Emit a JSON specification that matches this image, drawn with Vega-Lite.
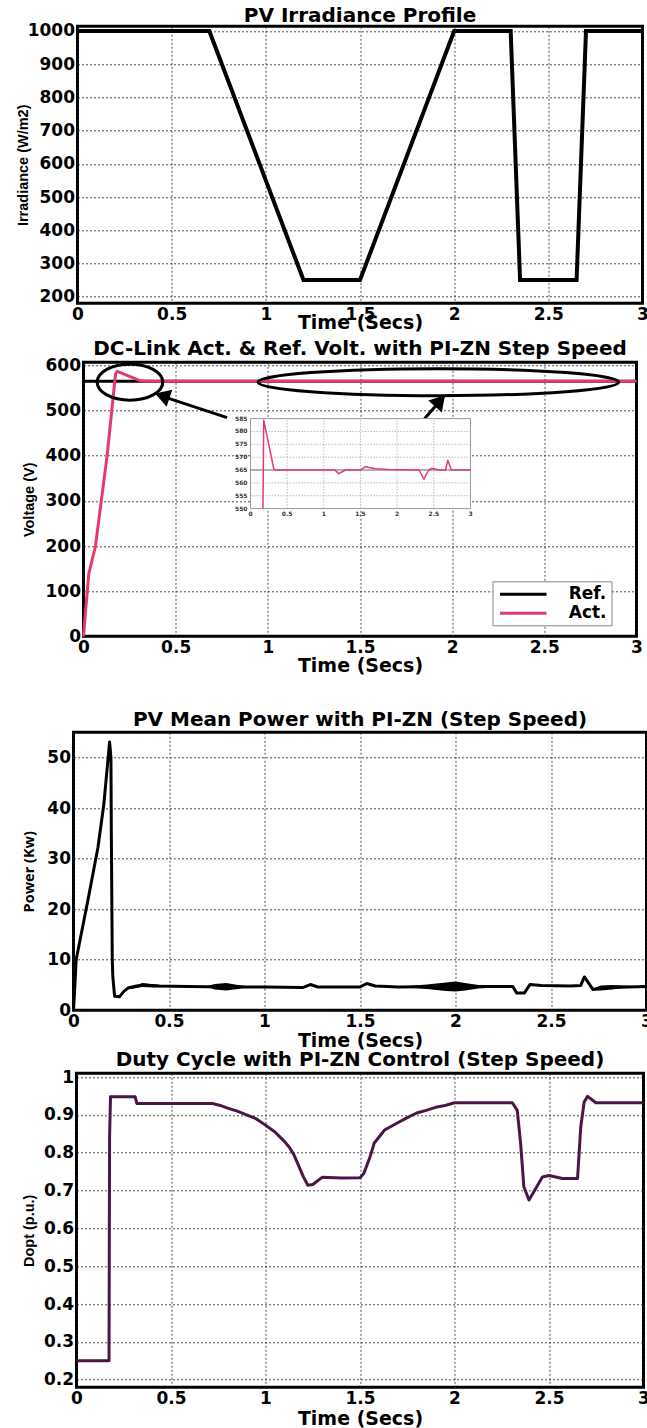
{
  "$schema": "https://vega.github.io/schema/vega-lite/v6.json",
  "usermeta": {"embedOptions": {"actions": false}},
  "background": "white",
  "padding": {"left": 13.5, "top": 4.3, "right": 0, "bottom": 0},
  "spacing": 0,
  "bounds": "flush",
  "center": true,
  "config": {
    "view": {"stroke": "black", "strokeWidth": 3},
    "axis": {"domain": false, "ticks": false, "grid": true, "gridColor": "#222", "gridDash": [2, 2], "gridWidth": 0.8, "gridOpacity": 1,
      "labelFont": "DejaVu Sans", "labelFontWeight": "bold", "labelFontSize": 17, "labelColor": "black", "labelPadding": 3,
      "labelFlush": false, "labelOverlap": false, "labelBound": false, "titleColor": "black"},
    "axisX": {"titleFont": "DejaVu Sans", "titleFontSize": 19, "titleFontWeight": "bold", "titleBaseline": "top", "titleAlign": "center"},
    "axisY": {"titleFont": "Liberation Sans", "titleFontSize": 14.5, "titleFontWeight": "bold", "titleAngle": 270, "titleBaseline": "middle", "titleAlign": "center"},
    "title": {"font": "DejaVu Sans", "fontSize": 20, "fontWeight": "bold", "color": "black", "anchor": "middle", "frame": "group", "baseline": "alphabetic"},
    "line": {"strokeJoin": "round"}
  },
  "datasets": {
    "irr": [{"t":0,"g":1000},{"t":0.7,"g":1000},{"t":1.2,"g":250},{"t":1.5,"g":250},{"t":2.0,"g":1000},{"t":2.3,"g":1000},{"t":2.35,"g":250},{"t":2.65,"g":250},{"t":2.7,"g":1000},{"t":3,"g":1000}],
    "vref": [{"t":0,"v":565,"s":"Ref."},{"t":3,"v":565,"s":"Ref."}],
    "vact": [{"t":0,"v":0,"s":"Act."},{"t":0.012,"v":60,"s":"Act."},{"t":0.029,"v":139,"s":"Act."},{"t":0.065,"v":200,"s":"Act."},{"t":0.128,"v":400,"s":"Act."},{"t":0.174,"v":582,"s":"Act."},{"t":0.183,"v":587,"s":"Act."},{"t":0.31,"v":566,"s":"Act."},{"t":0.34,"v":565,"s":"Act."},{"t":3,"v":565,"s":"Act."}],
    "ell1": [{"t":0.252,"v":563}],
    "ell2": [{"t":1.925,"v":563}],
    "arrows": [{"t":0.779,"v":484.5,"t2":0.40,"v2":535.5},{"t":1.85,"v":482,"t2":1.955,"v2":531}],
    "head1": [{"t":0.389,"v":537.7}],
    "head2": [{"t":1.961,"v":534}],
    "ibox": [{"t":0,"t2":3,"v":550,"v2":585}],
    "igx": [{"t":0.5,"v":550,"v2":585},{"t":1,"v":550,"v2":585},{"t":1.5,"v":550,"v2":585},{"t":2,"v":550,"v2":585},{"t":2.5,"v":550,"v2":585}],
    "igy": [{"v":555,"t":0,"t2":3},{"v":560,"t":0,"t2":3},{"v":565,"t":0,"t2":3},{"v":570,"t":0,"t2":3},{"v":575,"t":0,"t2":3},{"v":580,"t":0,"t2":3}],
    "ity": [{"v":550,"t":0},{"v":555,"t":0},{"v":560,"t":0},{"v":565,"t":0},{"v":570,"t":0},{"v":575,"t":0},{"v":580,"t":0},{"v":585,"t":0}],
    "itx": [{"t":0,"v":550},{"t":0.5,"v":550},{"t":1,"v":550},{"t":1.5,"v":550},{"t":2,"v":550},{"t":2.5,"v":550},{"t":3,"v":550}],
    "iref": [{"t":0,"v":565},{"t":3,"v":565}],
    "iact": [{"t":0.17,"v":550},{"t":0.181,"v":584.4},{"t":0.318,"v":565.4},{"t":0.35,"v":565},{"t":1.15,"v":565},{"t":1.204,"v":563.6},{"t":1.295,"v":565},{"t":1.5,"v":565},{"t":1.568,"v":566.3},{"t":1.7,"v":565.5},{"t":1.88,"v":565.2},{"t":2.3,"v":565},{"t":2.364,"v":561.4},{"t":2.43,"v":565},{"t":2.477,"v":565.7},{"t":2.568,"v":565},{"t":2.66,"v":565},{"t":2.69,"v":568.8},{"t":2.74,"v":565},{"t":3,"v":565}],
    "pow": [{"t":0,"p":0},{"t":0.006,"p":4},{"t":0.014,"p":10},{"t":0.04,"p":15},{"t":0.075,"p":21.7},{"t":0.128,"p":32.2},{"t":0.159,"p":40.8},{"t":0.189,"p":53.1},{"t":0.196,"p":50},{"t":0.198,"p":35},{"t":0.203,"p":10},{"t":0.206,"p":6.6},{"t":0.215,"p":2.8},{"t":0.241,"p":2.7},{"t":0.265,"p":3.8},{"t":0.285,"p":4.4},{"t":0.33,"p":4.8},{"t":0.37,"p":5.0},{"t":0.45,"p":4.8},{"t":0.6,"p":4.7},{"t":0.8,"p":4.6},{"t":1.0,"p":4.6},{"t":1.2,"p":4.5},{"t":1.24,"p":5.1},{"t":1.28,"p":4.6},{"t":1.5,"p":4.6},{"t":1.535,"p":5.3},{"t":1.58,"p":4.8},{"t":1.7,"p":4.6},{"t":2.0,"p":4.7},{"t":2.3,"p":4.7},{"t":2.32,"p":3.4},{"t":2.36,"p":3.4},{"t":2.39,"p":5.1},{"t":2.45,"p":4.9},{"t":2.6,"p":4.8},{"t":2.655,"p":4.9},{"t":2.675,"p":6.6},{"t":2.72,"p":4.1},{"t":2.8,"p":4.5},{"t":3,"p":4.7}],
    "powband": [{"b":1,"t":0.3,"lo":4.2,"hi":4.5},{"b":1,"t":0.36,"lo":4.6,"hi":5.4},{"b":1,"t":0.42,"lo":4.5,"hi":5.1},{"b":1,"t":0.48,"lo":4.6,"hi":4.9},
      {"b":2,"t":0.7,"lo":4.6,"hi":4.8},{"b":2,"t":0.74,"lo":4.1,"hi":5.2},{"b":2,"t":0.8,"lo":3.9,"hi":5.4},{"b":2,"t":0.86,"lo":4.2,"hi":5.0},{"b":2,"t":0.9,"lo":4.5,"hi":4.8},
      {"b":3,"t":1.75,"lo":4.5,"hi":4.8},{"b":3,"t":1.85,"lo":4.2,"hi":5.1},{"b":3,"t":1.95,"lo":3.8,"hi":5.5},{"b":3,"t":2.0,"lo":3.7,"hi":5.7},{"b":3,"t":2.05,"lo":3.9,"hi":5.4},{"b":3,"t":2.12,"lo":4.3,"hi":5.0},{"b":3,"t":2.2,"lo":4.5,"hi":4.8},
      {"b":4,"t":2.72,"lo":4.0,"hi":4.3},{"b":4,"t":2.76,"lo":3.9,"hi":4.9},{"b":4,"t":2.82,"lo":4.1,"hi":5.0},{"b":4,"t":2.88,"lo":4.4,"hi":4.9},{"b":4,"t":2.93,"lo":4.6,"hi":4.8}],
    "duty": [{"t":0,"d":0.25},{"t":0.172,"d":0.25},{"t":0.175,"d":0.84},{"t":0.18,"d":0.948},{"t":0.31,"d":0.948},{"t":0.32,"d":0.93},{"t":0.72,"d":0.93},{"t":0.76,"d":0.925},{"t":0.8,"d":0.918},{"t":0.85,"d":0.91},{"t":0.9,"d":0.9},{"t":0.95,"d":0.89},{"t":1.0,"d":0.873},{"t":1.05,"d":0.855},{"t":1.1,"d":0.83},{"t":1.125,"d":0.815},{"t":1.15,"d":0.795},{"t":1.17,"d":0.772},{"t":1.2,"d":0.737},{"t":1.224,"d":0.714},{"t":1.25,"d":0.716},{"t":1.3,"d":0.735},{"t":1.4,"d":0.733},{"t":1.5,"d":0.734},{"t":1.52,"d":0.745},{"t":1.553,"d":0.789},{"t":1.575,"d":0.825},{"t":1.63,"d":0.86},{"t":1.695,"d":0.878},{"t":1.75,"d":0.893},{"t":1.8,"d":0.905},{"t":1.85,"d":0.912},{"t":1.9,"d":0.92},{"t":1.95,"d":0.925},{"t":2.0,"d":0.932},{"t":2.306,"d":0.932},{"t":2.332,"d":0.912},{"t":2.35,"d":0.824},{"t":2.367,"d":0.71},{"t":2.394,"d":0.675},{"t":2.42,"d":0.697},{"t":2.465,"d":0.736},{"t":2.5,"d":0.74},{"t":2.571,"d":0.732},{"t":2.651,"d":0.732},{"t":2.668,"d":0.868},{"t":2.686,"d":0.934},{"t":2.704,"d":0.949},{"t":2.748,"d":0.932},{"t":3,"d":0.932}]
  },
  "vconcat": [
    {
      "width": 565, "height": 277,
      "title": {"text": "PV Irradiance Profile", "offset": -4.4},
      "data": {"name": "irr"},
      "mark": {"type": "line", "color": "black", "strokeWidth": 4, "strokeJoin": "miter"},
      "encoding": {
        "x": {"field": "t", "type": "quantitative", "scale": {"domain": [0, 3], "nice": false, "zero": false},
          "axis": {"values": [0, 0.5, 1, 1.5, 2, 2.5, 3], "format": "~g", "title": "Time (Secs)", "titleY": 10}},
        "y": {"field": "g", "type": "quantitative", "scale": {"domain": [180, 1014], "nice": false, "zero": false},
          "axis": {"values": [200, 300, 400, 500, 600, 700, 800, 900, 1000], "format": "d", "title": "Irradiance (W/m2)", "titleX": -54.5}}
      }
    },
    {"width": 10, "height": 59, "view": {"stroke": null}, "data": {"values": [{"a": 1}]}, "mark": {"type": "point", "opacity": 0}, "encoding": {}},
    {
      "width": 553, "height": 274,
      "title": {"text": "DC-Link Act. & Ref. Volt. with PI-ZN Step Speed", "offset": -2.4},
      "layer": [
        {
          "encoding": {
            "x": {"field": "t", "type": "quantitative", "scale": {"domain": [0, 3], "nice": false, "zero": false},
              "axis": {"values": [0, 0.5, 1, 1.5, 2, 2.5, 3], "format": "~g", "title": "Time (Secs)", "titleY": 20}},
            "y": {"field": "v", "type": "quantitative", "scale": {"domain": [0, 607], "nice": false, "zero": false},
              "axis": {"values": [0, 100, 200, 300, 400, 500, 600], "title": "Voltage (V)", "titleX": -54}}
          },
          "layer": [
            {"data": {"name": "vref"}, "mark": {"type": "line", "strokeWidth": 3},
              "encoding": {"color": {"field": "s", "type": "nominal",
                "scale": {"domain": ["Ref.", "Act."], "range": ["black", "#e63a6e"]},
                "legend": {"orient": "none", "legendX": 419, "legendY": 555, "title": null,
                  "symbolType": "M -3.1 0 L 3.1 0", "symbolSize": 225, "symbolOffset": 17.75,
                  "symbolStrokeWidth": 3, "labelFont": "DejaVu Sans", "labelFontWeight": "bold", "labelFontSize": 17, "labelColor": "black",
                  "labelOffset": 36.5, "fillColor": "white", "strokeColor": "#888", "padding": 4, "rowPadding": 2}}}},
            {"data": {"name": "vact"}, "mark": {"type": "line", "strokeWidth": 3},
              "encoding": {"color": {"field": "s", "type": "nominal"}}},
            {"data": {"name": "ell1"}, "mark": {"type": "point", "shape": "M -1 0 C -1 -0.303 -0.552 -0.549 0 -0.549 C 0.552 -0.549 1 -0.303 1 0 C 1 0.303 0.552 0.549 0 0.549 C -0.552 0.549 -1 0.303 -1 0 Z", "size": 4303, "filled": false, "stroke": "black", "strokeWidth": 3, "opacity": 1}},
            {"data": {"name": "ell2"}, "mark": {"type": "point", "shape": "M -1 0 C -1 -0.0413 -0.552 -0.0749 0 -0.0749 C 0.552 -0.0749 1 -0.0413 1 0 C 1 0.0413 0.552 0.0749 0 0.0749 C -0.552 0.0749 -1 0.0413 -1 0 Z", "size": 130104, "filled": false, "stroke": "black", "strokeWidth": 3, "opacity": 1}},
            {"data": {"name": "arrows"}, "mark": {"type": "rule", "color": "black", "strokeWidth": 3},
              "encoding": {"x2": {"field": "t2"}, "y2": {"field": "v2"}}},
            {"data": {"name": "head1"}, "mark": {"type": "point", "shape": "M -0.6 1 L 0 0 L 0.6 1 Z", "size": 900, "filled": true, "color": "black", "opacity": 1, "angle": 288.4}},
            {"data": {"name": "head2"}, "mark": {"type": "point", "shape": "M -0.6 1 L 0 0 L 0.6 1 Z", "size": 900, "filled": true, "color": "black", "opacity": 1, "angle": 41.5}}
          ]
        },
        {
          "encoding": {
            "x": {"field": "t", "type": "quantitative", "scale": {"domain": [-2.277, 5.264], "nice": false, "zero": false}, "axis": null},
            "y": {"field": "v", "type": "quantitative", "scale": {"domain": [500.32, 606.9], "nice": false, "zero": false}, "axis": null}
          },
          "layer": [
            {"data": {"name": "ibox"}, "mark": {"type": "rect", "fill": "white", "stroke": "#999", "strokeWidth": 1},
              "encoding": {"x2": {"field": "t2"}, "y2": {"field": "v2"}}},
            {"data": {"name": "igx"}, "mark": {"type": "rule", "color": "#aaa", "strokeWidth": 0.8, "strokeDash": [1.5, 1.5]},
              "encoding": {"y2": {"field": "v2"}}},
            {"data": {"name": "igy"}, "mark": {"type": "rule", "color": "#aaa", "strokeWidth": 0.8, "strokeDash": [1.5, 1.5]},
              "encoding": {"x2": {"field": "t2"}}},
            {"data": {"name": "iref"}, "mark": {"type": "line", "color": "#777", "strokeWidth": 1.2}},
            {"data": {"name": "iact"}, "mark": {"type": "line", "color": "#e63a6e", "strokeWidth": 1.5}},
            {"data": {"name": "ity"}, "mark": {"type": "text", "align": "right", "baseline": "middle", "dx": -3, "font": "DejaVu Sans", "fontSize": 6, "fontWeight": "bold", "color": "#333"},
              "encoding": {"text": {"field": "v", "type": "quantitative", "format": "~g"}}},
            {"data": {"name": "itx"}, "mark": {"type": "text", "align": "center", "baseline": "top", "dy": 2, "font": "DejaVu Sans", "fontSize": 6, "fontWeight": "bold", "color": "#333"},
              "encoding": {"text": {"field": "t", "type": "quantitative", "format": "~g"}}}
          ]
        }
      ],
      "resolve": {"scale": {"x": "independent", "y": "independent"}}
    },
    {"width": 10, "height": 96, "view": {"stroke": null}, "data": {"values": [{"a": 1}]}, "mark": {"type": "point", "opacity": 0}, "encoding": {}},
    {
      "width": 573, "height": 278,
      "title": {"text": "PV Mean Power with PI-ZN (Step Speed)", "offset": 2.1},
      "layer": [
        {"data": {"name": "powband"}, "mark": {"type": "area", "color": "black", "opacity": 1},
          "encoding": {
            "x": {"field": "t", "type": "quantitative", "scale": {"domain": [0, 3], "nice": false, "zero": false}},
            "y": {"field": "lo", "type": "quantitative", "scale": {"domain": [0, 55], "nice": false, "zero": false}},
            "y2": {"field": "hi"},
            "detail": {"field": "b", "type": "nominal"}
          }},
        {"data": {"name": "pow"}, "mark": {"type": "line", "color": "black", "strokeWidth": 3},
          "encoding": {
            "x": {"field": "t", "type": "quantitative", "scale": {"domain": [0, 3], "nice": false, "zero": false},
              "axis": {"values": [0, 0.5, 1, 1.5, 2, 2.5, 3], "format": "~g", "title": "Time (Secs)", "titleY": 21}},
            "y": {"field": "p", "type": "quantitative", "scale": {"domain": [0, 55], "nice": false, "zero": false},
              "axis": {"values": [0, 10, 20, 30, 40, 50], "title": "Power (Kw)", "titleX": -44, "titleFont": "Open Sans"}}
          }}
      ]
    },
    {"width": 10, "height": 63, "view": {"stroke": null}, "data": {"values": [{"a": 1}]}, "mark": {"type": "point", "opacity": 0}, "encoding": {}},
    {
      "width": 567, "height": 314,
      "title": {"text": "Duty Cycle with PI-ZN Control (Step Speed)", "offset": -2.4},
      "data": {"name": "duty"},
      "mark": {"type": "line", "color": "#4b1546", "strokeWidth": 3},
      "encoding": {
        "x": {"field": "t", "type": "quantitative", "scale": {"domain": [0, 3], "nice": false, "zero": false},
          "axis": {"values": [0, 0.5, 1, 1.5, 2, 2.5, 3], "format": "~g", "title": "Time (Secs)", "titleY": 22}},
        "y": {"field": "d", "type": "quantitative", "scale": {"domain": [0.18, 1.01], "nice": false, "zero": false},
          "axis": {"values": [0.2, 0.3, 0.4, 0.5, 0.6, 0.7, 0.8, 0.9, 1], "format": "~g", "title": "Dopt (p.u.)", "titleX": -47}}
      }
    }
  ]
}
